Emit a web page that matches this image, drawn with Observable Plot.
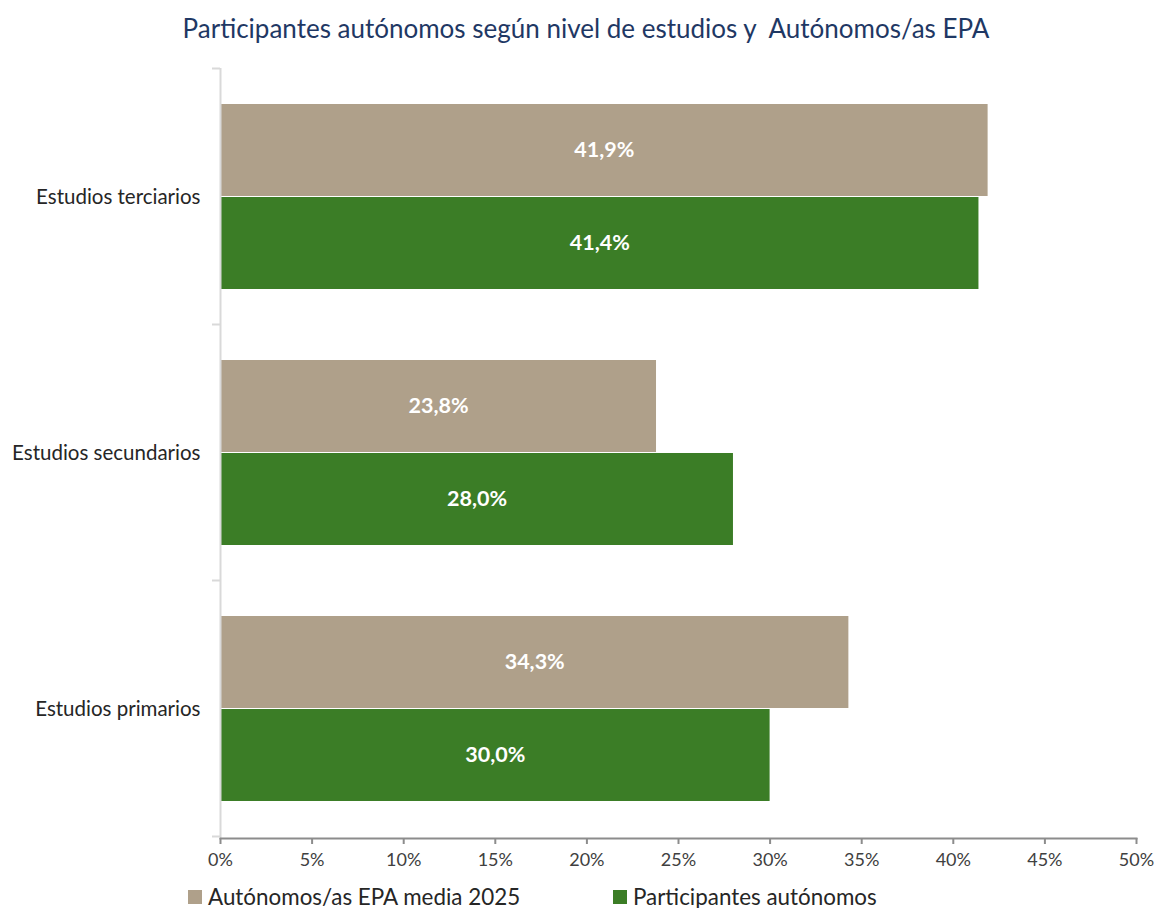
<!DOCTYPE html>
<html>
<head>
<meta charset="utf-8">
<script src="https://cdn.jsdelivr.net/npm/d3@7"></script>
<script src="https://cdn.jsdelivr.net/npm/@observablehq/plot@0.6"></script>
<style>
  body { margin: 0; background: #fff; font-family: Lato, "Open Sans", sans-serif; }
  #wrap { width: 1156px; position: relative; }
  #title { height: 56px; line-height: 56px; text-align: center; font-size: 26px; color: #1f3864; padding-left: 16px; }
  #legend { height: 38px; position: relative; font-size: 22.4px; color: #262626; }
  .item { position: absolute; top: 16px; display: flex; align-items: center; line-height: 22px; }
  .sw { width: 14px; height: 14px; margin-right: 6px; display: inline-block; }
</style>
</head>
<body>
<div id="wrap">
  <div id="title">Participantes autónomos según nivel de estudios y&nbsp; Autónomos/as EPA</div>
  <div id="chart"></div>
  <div id="legend"></div>
</div>
<script>
const categories = ["Estudios terciarios", "Estudios secundarios", "Estudios primarios"];
const seriesNames = ["Autónomos/as EPA media 2025", "Participantes autónomos"];
const epaValues = [0.419, 0.238, 0.343];
const participantValues = [0.414, 0.280, 0.300];
const xTicks = [0, 0.05, 0.10, 0.15, 0.20, 0.25, 0.30, 0.35, 0.40, 0.45, 0.50];
const colors = ["#afa08a", "#3b7d26"];

const epa = categories.map((c, i) => ({category: c, series: seriesNames[0], value: epaValues[i]}));
const part = categories.map((c, i) => ({category: c, series: seriesNames[1], value: participantValues[i]}));
const fmt = v => (v * 100).toFixed(1).replace(".", ",") + "%";

const half = 93;

const chart = Plot.plot({
  width: 1156,
  height: 814,
  marginLeft: 220,
  marginRight: 20,
  marginTop: 12,
  marginBottom: 32,
  style: {fontFamily: "Lato, 'Open Sans', sans-serif", background: "#fff"},
  x: {domain: [0, 0.5]},
  y: {domain: categories, paddingInner: 0.2754, paddingOuter: 0.1377},
  marks: [
    Plot.barX(epa, {y: "category", x: "value", fill: colors[0], insetBottom: half, insetTop: 0}),
    Plot.barX(part, {y: "category", x: "value", fill: colors[1], insetTop: half, insetBottom: 0}),
    Plot.text(epa, {y: "category", x: d => d.value / 2, text: d => fmt(d.value), dy: -half / 2, fill: "white", fontWeight: "bold", fontSize: 21.5}),
    Plot.text(part, {y: "category", x: d => d.value / 2, text: d => fmt(d.value), dy: half / 2, fill: "white", fontWeight: "bold", fontSize: 21.5}),
    Plot.ruleX([0], {stroke: "#d9d9d9", strokeWidth: 2}),
    Plot.frame({anchor: "bottom", stroke: "#8c8c8c", strokeWidth: 2}),
    Plot.axisX({ticks: xTicks, tickFormat: d => Math.round(d * 100) + "%", tickSize: 6, tickPadding: 9, fontSize: 18, color: "#404040", stroke: "#8c8c8c", strokeWidth: 2, label: null}),
    Plot.axisY({tickSize: 0, tickPadding: 20, fontSize: 20.5, color: "#262626", label: null})
  ]
});
document.getElementById("chart").appendChild(chart);

// boundary tick marks on the category axis, derived from the y scale
const ys = chart.scale("y");
const gap = (ys.step - ys.bandwidth) / 2;
const bounds = categories.map(c => ys.apply(c) - gap);
bounds.push(ys.apply(categories[categories.length - 1]) + ys.bandwidth + gap);
const xs = chart.scale("x");
const x0 = xs.apply(0);
d3.select(chart).append("g")
  .selectAll("line").data(bounds).join("line")
  .attr("x1", x0 - 8).attr("x2", x0)
  .attr("y1", d => d).attr("y2", d => d)
  .attr("stroke", "#d9d9d9").attr("stroke-width", 2);

// legend
const legend = d3.select("#legend");
const lx = [188, 613];
seriesNames.forEach((s, i) => {
  const it = legend.append("div").attr("class", "item").style("left", lx[i] + "px");
  it.append("span").attr("class", "sw").style("background", colors[i]);
  it.append("span").text(s);
});
</script>
</body>
</html>
